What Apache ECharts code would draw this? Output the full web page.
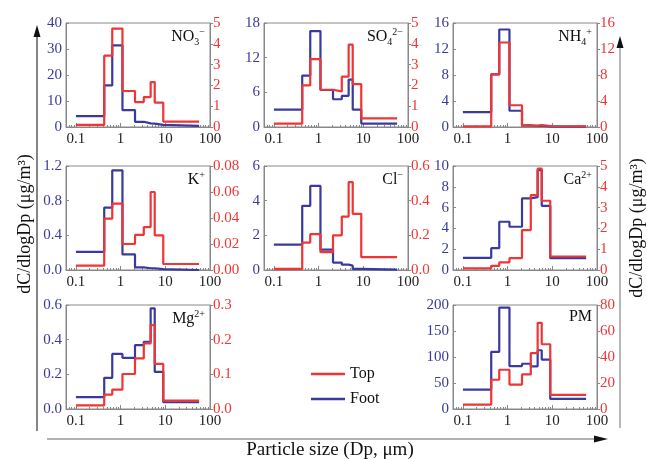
<!DOCTYPE html>
<html>
<head>
<meta charset="utf-8">
<script src="https://cdn.jsdelivr.net/npm/echarts@6/dist/echarts.min.js"></script>
<style>
html, body { margin: 0; padding: 0; background: #fff; }
#main { width: 647px; height: 459px; }
</style>
</head>
<body>
<div id="main"></div>
<script>
// impactor stage cut points (um), last value closes the top stage
var binEdges = [0.1, 0.43, 0.65, 1.1, 2.1, 3.3, 4.7, 5.8, 9.0, 57];

var no3Foot = [4.2, 16, 31.4, 6.5, 2.0, 1.4, 1.3, 0.8, 0.4];
var no3Top  = [0.1, 3.43, 4.73, 1.73, 1.2, 1.44, 2.16, 1.17, 0.26];
var so4Foot = [3.0, 8.9, 16.6, 6.4, 4.8, 5.4, 8.2, 3.0, 0.6];
var so4Top  = [0.16, 2.0, 3.26, 1.79, 1.71, 2.42, 3.96, 2.06, 0.41];
var nh4Foot = [2.3, 8.1, 15.0, 2.5, 0.25, 0.15, 0.2, 0.1, 0.05];
var nh4Top  = [0.1, 8.1, 13.0, 3.35, 0.2, 0.2, 0.3, 0.15, 0.1];
var kFoot   = [0.21, 0.72, 1.15, 0.18, 0.03, 0.02, 0.02, 0.01, 0.0];
var kTop    = [0.0034, 0.0395, 0.051, 0.02, 0.027, 0.033, 0.06, 0.0266, 0.0046];
var clFoot  = [1.46, 3.7, 4.85, 1.17, 0.43, 0.31, 0.25, 0.06, 0.02];
var clTop   = [0.006, 0.158, 0.207, 0.103, 0.2, 0.308, 0.507, 0.324, 0.074];
var caFoot  = [1.17, 2.1, 4.64, 4.16, 6.88, 7.0, 9.6, 6.17, 1.14];
var caTop   = [0.08, 0.2, 0.37, 0.57, 1.92, 3.6, 4.87, 3.33, 0.65];
var mgFoot  = [0.068, 0.18, 0.318, 0.295, 0.369, 0.388, 0.58, 0.214, 0.039];
var mgTop   = [0.0106, 0.0415, 0.056, 0.101, 0.146, 0.189, 0.242, 0.13, 0.024];
var pmFoot  = [37.4, 110, 195, 82.6, 87, 82, 113, 95, 19.4];
var pmTop   = [3.4, 22.5, 30.2, 18.8, 26.6, 43, 66.3, 49.8, 10.8];

var xTickLabels = ['0.1', '1', '10', '100'];
var ionLabels = ['{b|NO}{sub|3}{sup|−}', '{b|SO}{sub|4}{sup|2−}', '{b|NH}{sub|4}{sup|+}',
                 '{b|K}{sup|+}', '{b|Cl}{sup|−}', '{b|Ca}{sup|2+}', '{b|Mg}{sup|2+}', '{b|PM}'];

// [max, interval, decimals] for left (Foot) and right (Top) axes
var leftScales  = [[40, 10, 0], [18, 6, 0], [16, 4, 0], [1.2, 0.4, 1], [6, 2, 0], [10, 2, 0], [0.6, 0.2, 1], [200, 50, 0]];
var rightScales = [[5, 1, 0], [5, 1, 0], [16, 4, 0], [0.08, 0.02, 2], [0.6, 0.2, 1], [5, 1, 0], [0.3, 0.1, 1], [80, 20, 0]];
var footSets = [no3Foot, so4Foot, nh4Foot, kFoot, clFoot, caFoot, mgFoot, pmFoot];
var topSets  = [no3Top, so4Top, nh4Top, kTop, clTop, caTop, mgTop, pmTop];

var FONT = 'Liberation Serif';
var BLUE = '#3a3a9e';
var RED = '#ef3535';
var cols = [66, 264, 453];
var rows = [23, 166, 305];
var cells = [[0, 0], [1, 0], [2, 0], [0, 1], [1, 1], [2, 1], [0, 2], [2, 2]];
var W = 144, H = 104;

function steps(vals) {
    var d = [];
    for (var i = 0; i < vals.length; i++) d.push([binEdges[i], vals[i]]);
    d.push([binEdges[binEdges.length - 1], vals[vals.length - 1]]);
    return d;
}

var grids = [], xAxes = [], yAxes = [], series = [], graphics = [];

for (var p = 0; p < 8; p++) {
    var gx = cols[cells[p][0]], gy = rows[cells[p][1]];
    grids.push({ left: gx, top: gy, width: W, height: H, show: true, borderColor: '#888', borderWidth: 1 });
    xAxes.push({
        type: 'log', logBase: 10, min: 0.06, max: 100, gridIndex: p,
        axisLine: { lineStyle: { color: '#888' } },
        axisTick: { inside: true, length: 4, lineStyle: { color: '#888' } },
        minorTick: { show: true, splitNumber: 9, length: 2, lineStyle: { color: '#888' } },
        splitLine: { show: false },
        axisLabel: {
            fontFamily: FONT, fontSize: 15, color: '#222', margin: 5, showMinLabel: false,
            formatter: function (v) { return xTickLabels[Math.round(Math.log10(v)) + 1]; }
        }
    });
    (function (ls, rs) {
        yAxes.push({
            type: 'value', gridIndex: p, position: 'left', min: 0, max: ls[0], interval: ls[1],
            axisLine: { show: true, lineStyle: { color: '#888' } },
            axisTick: { show: true, inside: true, length: 3, lineStyle: { color: '#888' } },
            splitLine: { show: false },
            axisLabel: { fontFamily: FONT, fontSize: 15, color: BLUE, margin: 4,
                formatter: function (v) { return v.toFixed(ls[2]); } }
        });
        yAxes.push({
            type: 'value', gridIndex: p, position: 'right', min: 0, max: rs[0], interval: rs[1],
            axisLine: { show: true, lineStyle: { color: '#888' } },
            axisTick: { show: true, inside: false, length: 3, lineStyle: { color: '#888' } },
            splitLine: { show: false },
            axisLabel: { fontFamily: FONT, fontSize: 15, color: RED, margin: 3,
                formatter: function (v) { return v.toFixed(rs[2]); } }
        });
    })(leftScales[p], rightScales[p]);
    series.push({
        name: 'Foot', type: 'line', step: 'end', symbol: 'none', xAxisIndex: p, yAxisIndex: 2 * p,
        data: steps(footSets[p]), lineStyle: { color: BLUE, width: 2.2 }, itemStyle: { color: BLUE }
    });
    series.push({
        name: 'Top', type: 'line', step: 'end', symbol: 'none', xAxisIndex: p, yAxisIndex: 2 * p + 1,
        data: steps(topSets[p]), lineStyle: { color: RED, width: 2.2 }, itemStyle: { color: RED }
    });
    graphics.push({
        type: 'text', right: 647 - gx - W + 5, top: gy + 4, z: 10,
        style: {
            text: ionLabels[p], fill: '#111', font: '16px ' + FONT,
            rich: {
                b: { fontFamily: FONT, fontSize: 16, lineHeight: 20, verticalAlign: 'middle', fill: '#111' },
                sub: { fontFamily: FONT, fontSize: 10, lineHeight: 10, verticalAlign: 'bottom', fill: '#111' },
                sup: { fontFamily: FONT, fontSize: 10, lineHeight: 10, verticalAlign: 'top', fill: '#111' }
            }
        }
    });
}

// outer arrows and titles
graphics.push(
    { type: 'line', shape: { x1: 37, y1: 36, x2: 37, y2: 431 }, style: { stroke: '#333', lineWidth: 1.2 } },
    { type: 'polygon', shape: { points: [[37, 25], [33.5, 37], [40.5, 37]] }, style: { fill: '#111' } },
    { type: 'line', shape: { x1: 620, y1: 47, x2: 620, y2: 428 }, style: { stroke: '#888', lineWidth: 1.2 } },
    { type: 'polygon', shape: { points: [[620, 36], [616.5, 48], [623.5, 48]] }, style: { fill: '#111' } },
    { type: 'line', shape: { x1: 47, y1: 439, x2: 596, y2: 439 }, style: { stroke: '#999', lineWidth: 1.5 } },
    { type: 'polygon', shape: { points: [[608, 439], [594, 435.5], [594, 442.5]] }, style: { fill: '#111' } },
    { type: 'text', x: 25, y: 224, rotation: Math.PI / 2,
      style: { text: 'dC/dlogDp (μg/m³)', font: '18px ' + FONT, fill: '#111', align: 'center', verticalAlign: 'middle' } },
    { type: 'text', x: 637, y: 228, rotation: Math.PI / 2,
      style: { text: 'dC/dlogDp (μg/m³)', font: '18px ' + FONT, fill: '#111', align: 'center', verticalAlign: 'middle' } },
    { type: 'text', x: 330, y: 450,
      style: { text: 'Particle size (Dp, μm)', font: '19px ' + FONT, fill: '#111', align: 'center', verticalAlign: 'middle' } }
);

var myChart = echarts.init(document.getElementById('main'));
var option = {
    animation: false,
    backgroundColor: '#fff',
    legend: {
        data: ['Top', 'Foot'], orient: 'vertical', left: 306, top: 361,
        icon: 'rect', itemWidth: 34, itemHeight: 2.5, itemGap: 9,
        textStyle: { fontFamily: FONT, fontSize: 16, color: '#111', lineHeight: 16 }
    },
    grid: grids,
    xAxis: xAxes,
    yAxis: yAxes,
    series: series,
    graphic: graphics
};
myChart.setOption(option);
</script>
</body>
</html>
